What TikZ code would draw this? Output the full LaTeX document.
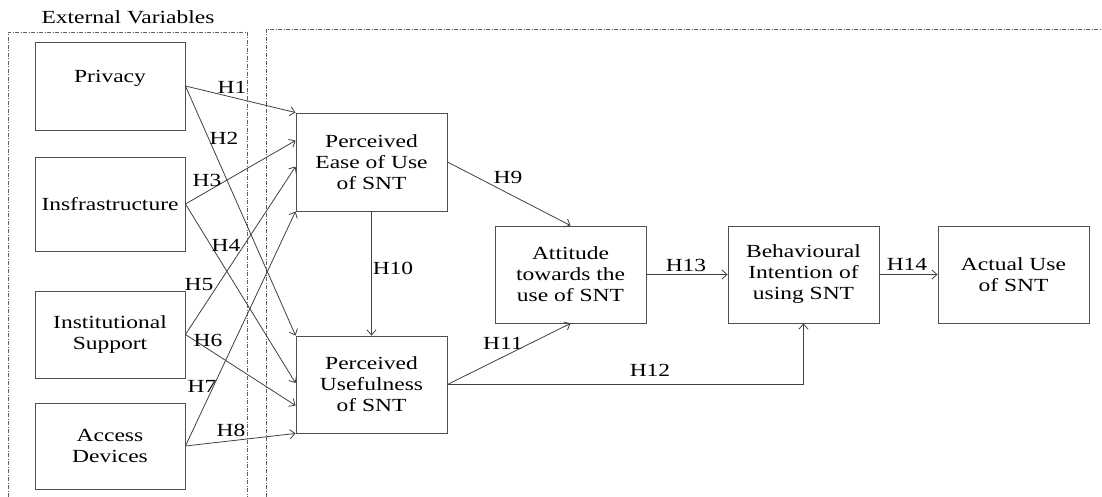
\documentclass[tikz,border=0pt]{standalone}
\usepackage{fontspec}
\setmainfont{Liberation Serif}[FakeStretch=1.27]
\usetikzlibrary{arrows.meta}
\definecolor{boxgray}{HTML}{505050}
\definecolor{linegray}{HTML}{404040}
\definecolor{framegray}{HTML}{606060}
\begin{document}
\begin{tikzpicture}[x=1pt,y=-1pt,
  txt/.style={font=\fontsize{18.5}{21}\selectfont, text=black},
  box/.style={txt, draw=boxgray, line width=0.9pt, minimum width=150pt, minimum height=97pt, inner sep=0pt, align=center},
  hyp/.style={txt, inner sep=0pt},
  conn/.style={draw=linegray, line width=0.8pt, -{Straight Barb[length=5pt,width=9pt]}},
  frame/.style={draw=framegray, line width=0.8pt, dash pattern=on 4pt off 1.5pt on 1pt off 1.5pt}]
\useasboundingbox (0,0) rectangle (1102,497);
% frames
\draw[frame] (8,497) -- (8,32) -- (247,32) -- (247,497);
\draw[frame] (266,497) -- (266,29) -- (1102,29);
\node[hyp] (ext) at (128,17) {External Variables};
% left boxes
\node[box, minimum height=88pt] (priv) at (110,86) {};
\node[hyp] (privtxt) at (110,78) {Privacy};
\node[box, minimum height=94pt] (infra) at (110,204) {Insfrastructure};
\node[box, minimum height=87pt] (inst) at (110,334.5) {Institutional\\Support};
\node[box, minimum height=86pt] (acc) at (110,446) {Access\\Devices};
% middle boxes
\node[box, minimum width=151pt, minimum height=98pt] (peou) at (371.5,162) {Perceived\\Ease of Use\\of SNT};
\node[box, minimum width=151pt] (pu) at (371.5,384.5) {Perceived\\Usefulness\\of SNT};
\node[box, minimum width=151pt] (att) at (570.5,274.5) {Attitude\\towards the\\use of SNT};
\node[box, minimum width=151pt] (bi) at (803.5,274.5) {Behavioural\\Intention of\\using SNT};
\node[box, minimum width=151pt] (au) at (1013.5,274.5) {Actual Use\\of SNT};
% connectors
\draw[conn] (priv.east) -- (peou.north west);
\draw[conn] (priv.east) -- (pu.north west);
\draw[conn] (infra.east) -- ([yshift=-28pt]peou.north west);
\draw[conn] (infra.east) -- ([yshift=1.5pt]pu.west);
\draw[conn] (inst.east) -- ([yshift=-54pt]peou.north west);
\draw[conn] (inst.east) -- ([yshift=-21pt]pu.west);
\draw[conn] (acc.east) -- (peou.south west);
\draw[conn] (acc.east) -- (pu.south west);
\draw[conn] (peou.east) -- (att.north);
\draw[conn] (peou.south) -- (pu.north);
\draw[conn] (pu.east) -- (att.south);
\draw[conn] (pu.east) -- (bi.south |- pu.east) -- (bi.south);
\draw[conn] (att.east) -- (bi.west);
\draw[conn] (bi.east) -- (au.west);
% labels
\node[hyp] (h1) at (232,87) {H1};
\node[hyp] (h2) at (224,138) {H2};
\node[hyp] (h3) at (207,180) {H3};
\node[hyp] (h4) at (226,245) {H4};
\node[hyp] (h5) at (199,285) {H5};
\node[hyp] (h6) at (208,340) {H6};
\node[hyp] (h7) at (202,386) {H7};
\node[hyp] (h8) at (231,430) {H8};
\node[hyp] (h9) at (508,177) {H9};
\node[hyp] (h10) at (393,268) {H10};
\node[hyp] (h11) at (503,343) {H11};
\node[hyp] (h12) at (650,370) {H12};
\node[hyp] (h13) at (686,265) {H13};
\node[hyp] (h14) at (907,264) {H14};
\end{tikzpicture}
\end{document}
